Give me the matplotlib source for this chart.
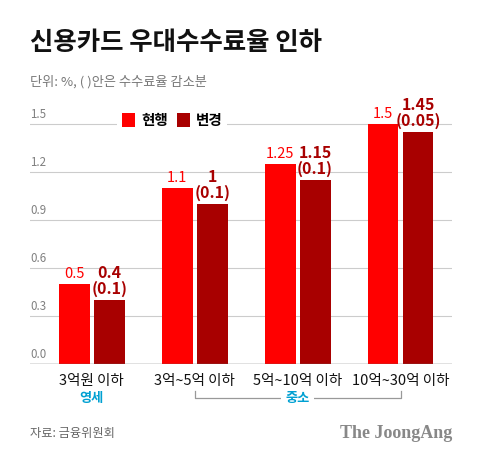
import matplotlib.pyplot as plt
from matplotlib.patches import Patch

plt.rcParams['font.family'] = ['Noto Sans CJK KR', 'DejaVu Sans']

# data
categories = ['3억원 이하', '3억~5억 이하', '5억~10억 이하', '10억~30억 이하']
current = [0.5, 1.1, 1.25, 1.5]
changed = [0.4, 1.0, 1.15, 1.45]
reduction = [0.1, 0.1, 0.1, 0.05]
y_ticks = [0.0, 0.3, 0.6, 0.9, 1.2, 1.5]
legend_labels = ['현행', '변경']

c_red = '#ff0000'
c_dark = '#a80000'
c_blue = '#00a0d2'

fig = plt.figure(figsize=(4.8, 4.59), dpi=100)
ax = fig.add_axes([30 / 480, 95 / 459, 422 / 480, 256 / 459])
ax.set_xlim(-0.60, 3.50)
ax.set_ylim(0, 1.6)

x = list(range(len(categories)))
w = 0.30
off = 0.17
ax.bar([i - off for i in x], current, width=w, color=c_red, zorder=3)
ax.bar([i + off for i in x], changed, width=w, color=c_dark, zorder=3)

# grid lines and tick labels
for t in y_ticks:
    if t == 0:
        ax.axhline(t, color='#666666', linewidth=1.0, zorder=4)
    else:
        ax.axhline(t, color='#cccccc', linewidth=0.8, zorder=1)
    ax.annotate('%.1f' % t, xy=(0, t), xycoords=('axes fraction', 'data'),
                xytext=(0, 3), textcoords='offset pixels', ha='left', va='bottom',
                fontsize=8.3, color='#808080')

for s in ax.spines.values():
    s.set_visible(False)
ax.set_xticks([])
ax.set_yticks([])

# value labels
for i in x:
    ax.annotate('%g' % current[i], xy=(i - off, current[i]), xytext=(0, 3),
                textcoords='offset pixels', ha='center', va='bottom',
                fontsize=10.5, color=c_red)
    ax.annotate('%g\n(%g)' % (changed[i], reduction[i]), xy=(i + off, changed[i]),
                xytext=(0, 3), textcoords='offset pixels', ha='center', va='bottom',
                fontsize=11.5, fontweight='bold', color=c_dark, linespacing=0.95)

# category labels
for i in x:
    ax.annotate(categories[i], xy=(i, 0), xycoords=('data', 'axes fraction'),
                xytext=(0, -17), textcoords='offset pixels', ha='center', va='center',
                fontsize=10.5, color='#111111')

ax.annotate('영세', xy=(0, 0), xycoords=('data', 'axes fraction'),
            xytext=(0, -34), textcoords='offset pixels', ha='center', va='center',
            fontsize=9.5, fontweight='bold', color=c_blue)

trans = ax.get_xaxis_transform()
yb = -34 / 256
yt = -27 / 256
ax.plot([1.0, 1.0, 3.0, 3.0], [yt, yb, yb, yt], transform=trans, color='#999999',
        linewidth=0.9, clip_on=False)
ax.text(2.0, yb, '중소', transform=trans, ha='center', va='center', fontsize=9.5,
        fontweight='bold', color=c_blue,
        bbox=dict(facecolor='white', edgecolor='none', pad=3))

# legend
handles = [Patch(facecolor=c_red), Patch(facecolor=c_dark)]
leg = ax.legend(handles, legend_labels, loc='center', bbox_to_anchor=(0.337, 0.953),
                ncol=2, frameon=True, fancybox=False, framealpha=1,
                handlelength=0.9, handleheight=1.05, handletextpad=0.4,
                columnspacing=0.6, borderpad=0.35, prop={'size': 10.5, 'weight': 'bold'})
leg.get_frame().set_edgecolor('none')
leg.get_frame().set_facecolor('white')
leg.set_zorder(5)

# titles and footer
fig.text(30 / 480, 1 - 43 / 459, '신용카드 우대수수료율 인하', fontsize=18.3,
         fontweight='bold', ha='left', va='center', color='#111111')
fig.text(30 / 480, 1 - 82 / 459, '단위: %, ( )안은 수수료율 감소분', fontsize=9.5,
         ha='left', va='center', color='#777777')
fig.text(30 / 480, 1 - 433 / 459, '자료: 금융위원회', fontsize=8.8,
         ha='left', va='center', color='#666666')
fig.text(452 / 480, 1 - 433 / 459, 'The JoongAng', fontsize=13, fontweight='bold',
         family='Liberation Serif', ha='right', va='center', color='#888888')

fig.savefig('out.png', dpi=100, facecolor='white')
